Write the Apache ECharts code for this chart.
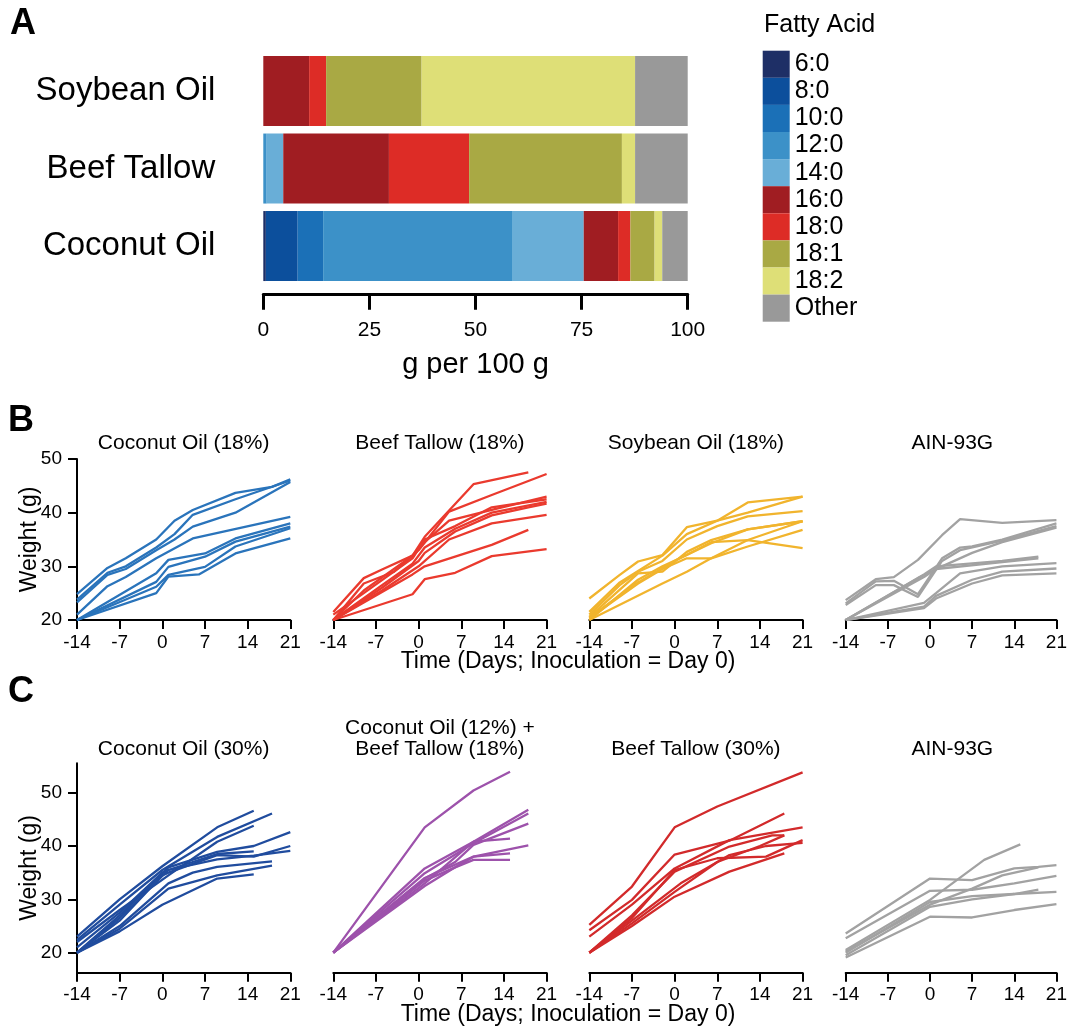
<!DOCTYPE html>
<html>
<head>
<meta charset="utf-8">
<script src="https://cdn.jsdelivr.net/npm/echarts@6/dist/echarts.min.js"></script>
<style>
html,body{margin:0;padding:0;background:#fff;}
#chart{width:1070px;height:1030px;}
</style>
</head>
<body>
<div id="chart"></div>
<script>
// ---------- Panel A data ----------
const oils = ['Soybean Oil', 'Beef Tallow', 'Coconut Oil'];
const acids = ['6:0', '8:0', '10:0', '12:0', '14:0', '16:0', '18:0', '18:1', '18:2', 'Other'];
const acidColors = ['#1e2f66', '#0c4f9c', '#1b70b7', '#3c91c8', '#69aed7', '#a01d22', '#dd2c26', '#a9a944', '#dedf77', '#999999'];
const soybeanOil = [0, 0, 0, 0, 0, 10.8, 4.0, 22.5, 50.3, 12.4];
const beefTallow = [0, 0, 0, 0.8, 3.9, 24.9, 18.9, 36.0, 3.1, 12.4];
const coconutOil = [0.6, 7.5, 6.0, 44.5, 16.9, 8.1, 2.9, 5.7, 1.8, 6.0];
const pctTicks = [0, 25, 50, 75, 100];

// ---------- Panel B data: [day, weight g] ----------
const dayTicks = [-14, -7, 0, 7, 14, 21];
const weightTicks = [20, 30, 40, 50];
const coconut18 = [
  [[-14,24.8],[-9,29.7],[-6,31.5],[-1,35],[2,38.5],[5,40.5],[12,43.7],[18,44.8],[21,46.2]],
  [[-14,23.8],[-9,28.8],[-6,30],[-1,33.5],[2,36],[5,39.6],[12,42.5],[21,46]],
  [[-14,23.3],[-9,28.4],[-6,29.5],[-1,33],[2,35],[5,37.4],[12,40],[21,45.7]],
  [[-14,21],[-9,26.3],[-6,28],[-1,31.5],[5,35.2],[21,39.2]],
  [[-14,20],[-1,28.7],[1,31.2],[7,32.4],[12,35.2],[21,38]],
  [[-14,20],[-1,27.1],[1,29.9],[7,31.8],[12,34.6],[21,37.4]],
  [[-14,20],[-1,26.2],[1,28.4],[7,29.9],[12,33.7],[21,37.1]],
  [[-14,20],[-1,25],[1,28.1],[6,28.5],[12,32.4],[21,35.2]]
];
const beef18 = [
  [[-14,21.5],[-9,27.8],[-6,29.4],[-1,32],[1,35.5],[9,45.3],[18,47.5]],
  [[-14,20],[-9,26.8],[-4,29],[0,33],[5,40.2],[12,43.3],[21,47.2]],
  [[-14,20],[-9,25.5],[-1,32],[1,34.5],[5,38.5],[12,40.5],[21,43]],
  [[-14,21],[-9,25],[-1,31.5],[1,35],[6,37.5],[12,41],[21,42.5]],
  [[-14,20],[-6,26.5],[-1,30.5],[1,33.5],[6,37],[12,40],[21,42]],
  [[-14,20],[-6,26],[0,31],[1,32.5],[6,36.5],[12,39.5],[18,41],[21,41.7]],
  [[-14,20],[-6,25.5],[0,30],[5,35],[12,38],[21,39.6]],
  [[-14,20],[-1,28.5],[1,30],[12,34],[18,36.8]],
  [[-14,20],[-1,24.8],[1,27.6],[6,28.8],[12,31.9],[21,33.2]]
];
const soybean18 = [
  [[-14,24],[-9,28.4],[-6,30.9],[-2,32.1],[2,37.3],[7,38.5],[12,41.9],[21,43]],
  [[-14,21.5],[-9,27],[-2,32],[2,36],[7,38.5],[12,40],[21,43]],
  [[-14,21],[-9,26.5],[-6,29],[-2,31],[2,35],[7,37.5],[12,39.3],[21,40.3]],
  [[-14,20.6],[-6,28.7],[-2,29],[2,32.7],[6,34.9],[12,36.9],[21,38.4]],
  [[-14,20],[-6,27.5],[-2,30],[2,32.1],[6,34.3],[12,36.9],[21,38.4]],
  [[-14,20.3],[-6,26.8],[-2,29.5],[2,31.5],[6,31.5],[12,34.9],[21,38.4]],
  [[-14,20],[-2,26.8],[2,29],[6,31.5],[12,33.7],[21,36.8]],
  [[-14,20.5],[-6,27],[0,31],[6,34.5],[12,34.9],[21,33.4]]
];
const ain18 = [
  [[-14,23.7],[-9,27.6],[-6,28],[-2,31.2],[2,35.8],[5,38.8],[12,38.1],[21,38.6]],
  [[-14,23.1],[-9,27.2],[-6,27.3],[-2,24.8],[2,31.5],[5,33.5],[7,33.7],[12,35],[21,38]],
  [[-14,22.8],[-9,26.5],[-6,26.5],[-2,24.3],[2,31],[5,33],[12,34.8],[21,37.5]],
  [[-14,20],[-2,27.8],[2,30],[7,32.5],[12,34.5],[21,37.2]],
  [[-14,20],[-1,28.5],[1,30],[12,31],[18,31.8]],
  [[-14,20],[-1,28],[1,29.5],[12,30.8],[18,31.5]],
  [[-14,20],[-1,23.2],[1,25],[5,28.7],[12,30],[21,30.6]],
  [[-14,20],[-1,22.5],[1,24.5],[7,27.5],[12,29],[21,29.6]],
  [[-14,20],[-1,22.2],[1,24],[7,26.8],[12,28.3],[21,28.7]]
];

// ---------- Panel C data ----------
const coconut30 = [
  [[-14,23],[-7,30],[0,36.2],[9,43.5],[15,46.6]],
  [[-14,22.4],[-7,29],[0,35.5],[9,41.7],[18,46.1]],
  [[-14,22],[-7,28],[1,34.5],[9,40.8],[15,43.8]],
  [[-14,20],[-7,27],[1,36],[9,38.9],[15,40],[21,42.6]],
  [[-14,20],[-7,26],[0,34.5],[1,35],[9,38.3],[15,38],[21,40]],
  [[-14,20],[-7,26.5],[1,35.5],[9,37.5],[15,38.2],[21,39.1]],
  [[-14,20],[-7,25],[1,33],[5,35],[9,36.1],[18,37.1]],
  [[-14,20],[-7,24.5],[1,32],[9,34.5],[18,36.3]],
  [[-14,20],[-7,24],[0,29],[9,33.9],[15,34.7]],
  [[-14,21],[-7,27.5],[0,35],[1,35.5],[9,38.5],[15,39]]
];
const coconut12beef18 = [
  [[-14,20],[1,43.5],[9,50.4],[15,53.9]],
  [[-14,20],[1,35.8],[9,40.8],[18,46.8]],
  [[-14,20],[1,34.9],[9,40.5],[18,46.1]],
  [[-14,20],[1,33.9],[6,37],[9,40.2],[18,44.2]],
  [[-14,20],[1,33],[9,40.8],[15,41.4]],
  [[-14,20],[1,34],[9,38],[18,40.1]],
  [[-14,20],[1,33.5],[6,36],[9,38],[15,38.6]],
  [[-14,20],[1,32.5],[6,36],[9,37.4],[15,37.4]]
];
const beef30 = [
  [[-14,25.2],[-7,32.4],[0,43.5],[7,47.4],[21,53.8]],
  [[-14,24.2],[-7,29.9],[0,38.4],[9,41],[18,46.1]],
  [[-14,23],[-7,29],[0,35.8],[9,41.1],[21,43.5]],
  [[-14,20],[-7,27],[0,35.2],[9,39.9],[16,42],[18,42]],
  [[-14,20],[-7,26.5],[0,35.5],[7,37.7],[15,38],[21,41.1]],
  [[-14,20],[-7,26],[1,33],[9,38.3],[15,40],[21,40.6]],
  [[-14,20],[-7,25.5],[0,31.4],[7,37],[14,40],[18,42]],
  [[-14,20],[-7,25],[0,30.5],[9,35.2],[18,38.6]]
];
const ain30 = [
  [[-14,23.6],[0,33.9],[7,33.6],[14,35.8],[18,36.1],[21,36.4]],
  [[-14,22.7],[0,31.6],[7,31.8],[14,33],[21,34.4]],
  [[-14,20.5],[0,29.9],[9,37.4],[15,40.3]],
  [[-14,20.2],[0,29],[7,32],[12,34.5],[18,36]],
  [[-14,20],[0,29.5],[7,30.6],[14,31],[18,31.8]],
  [[-14,19.5],[0,28.6],[7,30],[14,31],[21,31.4]],
  [[-14,19.1],[0,26.75],[7,26.6],[14,28],[21,29.1]]
];

const titlesB = ['Coconut Oil (18%)', 'Beef Tallow (18%)', 'Soybean Oil (18%)', 'AIN-93G'];
const titlesC = ['Coconut Oil (30%)', 'Coconut Oil (12%) +\nBeef Tallow (18%)', 'Beef Tallow (30%)', 'AIN-93G'];

// ---------- build ----------
const FONT = '"Liberation Sans", Arial, Helvetica, sans-serif';
const chart = echarts.init(document.getElementById('chart'), null, {renderer: 'canvas'});

const lefts = [77, 333.3, 589.3, 845.7];
const plotW = 213.3;
const grids = [{left: 263.3, top: 52.3, width: 424.4, height: 232.5}];
lefts.forEach(l => grids.push({left: l, top: 459, width: plotW, height: 161}));
lefts.forEach(l => grids.push({left: l, top: 763.3, width: plotW, height: 209.4}));

const xAxes = [{
  gridIndex: 0, type: 'value', min: 0, max: 100, interval: 25, offset: 9,
  axisLine: {show: true, lineStyle: {color: '#000', width: 3}},
  axisTick: {show: true, length: 16, lineStyle: {color: '#000', width: 3}},
  axisLabel: {fontSize: 21, color: '#000', fontFamily: FONT, margin: 26, customValues: pctTicks},
  splitLine: {show: false}
}];
const yAxes = [{
  gridIndex: 0, type: 'category', data: oils, inverse: true,
  axisLine: {show: false}, axisTick: {show: false},
  axisLabel: {fontSize: 33, color: '#000', fontFamily: FONT, margin: 48}
}];
for (let g = 1; g <= 8; g++) {
  const isC = g >= 5;
  xAxes.push({
    gridIndex: g, type: 'value', min: -14, max: 21, interval: 7,
    axisLine: {show: true, onZero: false, lineStyle: {color: '#000', width: 2}},
    axisTick: {show: true, length: 9, lineStyle: {color: '#000', width: 2}},
    axisLabel: {fontSize: 19, color: '#000', fontFamily: FONT, margin: 13, customValues: dayTicks},
    splitLine: {show: false}
  });
  const first = (g === 1 || g === 5);
  yAxes.push({
    gridIndex: g, type: 'value',
    min: isC ? 16.25 : 20, max: isC ? 55.5 : 50,
    show: first,
    axisLine: {show: true, onZero: false, lineStyle: {color: '#000', width: 2}},
    axisTick: {show: true, length: 9, lineStyle: {color: '#000', width: 2}, customValues: weightTicks},
    axisLabel: {fontSize: 19, color: '#000', fontFamily: FONT, margin: 15, customValues: weightTicks},
    splitLine: {show: false}
  });
}

const series = [];
const oilRows = [soybeanOil, beefTallow, coconutOil];
acids.forEach((a, i) => {
  series.push({
    type: 'bar', name: a, stack: 'fa', xAxisIndex: 0, yAxisIndex: 0,
    barWidth: 70, data: oilRows.map(r => r[i]),
    itemStyle: {color: acidColors[i]}, silent: true
  });
});
function addLines(lines, color, g) {
  lines.forEach(l => series.push({
    type: 'line', xAxisIndex: g, yAxisIndex: g, data: l,
    symbol: 'none', showSymbol: false, silent: true,
    lineStyle: {color: color, width: 2.3}, itemStyle: {color: color}
  }));
}
addLines(coconut18, '#2a74bb', 1);
addLines(beef18, '#ea3a2e', 2);
addLines(soybean18, '#f1b42d', 3);
addLines(ain18, '#a2a2a2', 4);
addLines(coconut30, '#204c9e', 5);
addLines(coconut12beef18, '#9d52ab', 6);
addLines(beef30, '#d22a2b', 7);
addLines(ain30, '#a2a2a2', 8);

function txt(text, x, y, size, opts) {
  opts = opts || {};
  return {
    type: 'text', x: x, y: y, rotation: opts.rotation || 0, silent: true,
    style: {
      text: text, fill: '#000', fontSize: size, fontFamily: FONT,
      fontWeight: opts.bold ? 'bold' : 'normal',
      textAlign: opts.align || 'center', textVerticalAlign: 'middle',
      align: opts.align || 'center', verticalAlign: 'middle',
      lineHeight: opts.lineHeight || undefined
    }
  };
}
const graphics = [
  txt('A', 10, 24, 36, {bold: true, align: 'left'}),
  txt('B', 8, 421, 36, {bold: true, align: 'left'}),
  txt('C', 8, 692, 36, {bold: true, align: 'left'}),
  txt('g per 100 g', 475.5, 365, 29),
  txt('Fatty Acid', 764, 25, 25, {align: 'left'}),
  txt('Time (Days; Inoculation = Day 0)', 568, 662, 23),
  txt('Time (Days; Inoculation = Day 0)', 568, 1015, 23),
  txt('Weight (g)', 30, 539.5, 23, {rotation: Math.PI / 2}),
  txt('Weight (g)', 30, 868, 23, {rotation: Math.PI / 2})
];
titlesB.forEach((t, i) => graphics.push(txt(t, lefts[i] + plotW / 2, 443, 21)));
titlesC.forEach((t, i) => graphics.push(txt(t, lefts[i] + plotW / 2, i === 1 ? 738.5 : 749.5, 21, {lineHeight: 21})));

chart.setOption({
  animation: false,
  backgroundColor: '#fff',
  textStyle: {fontFamily: FONT},
  grid: grids,
  xAxis: xAxes,
  yAxis: yAxes,
  legend: {
    data: acids, orient: 'vertical', left: 762.7, top: 50.7,
    itemWidth: 27, itemHeight: 27.1, itemGap: 0, padding: 0,
    selectedMode: false, icon: 'rect',
    textStyle: {fontSize: 25, color: '#000', fontFamily: FONT, lineHeight: 27}
  },
  graphic: graphics,
  series: series
});
</script>
</body>
</html>
